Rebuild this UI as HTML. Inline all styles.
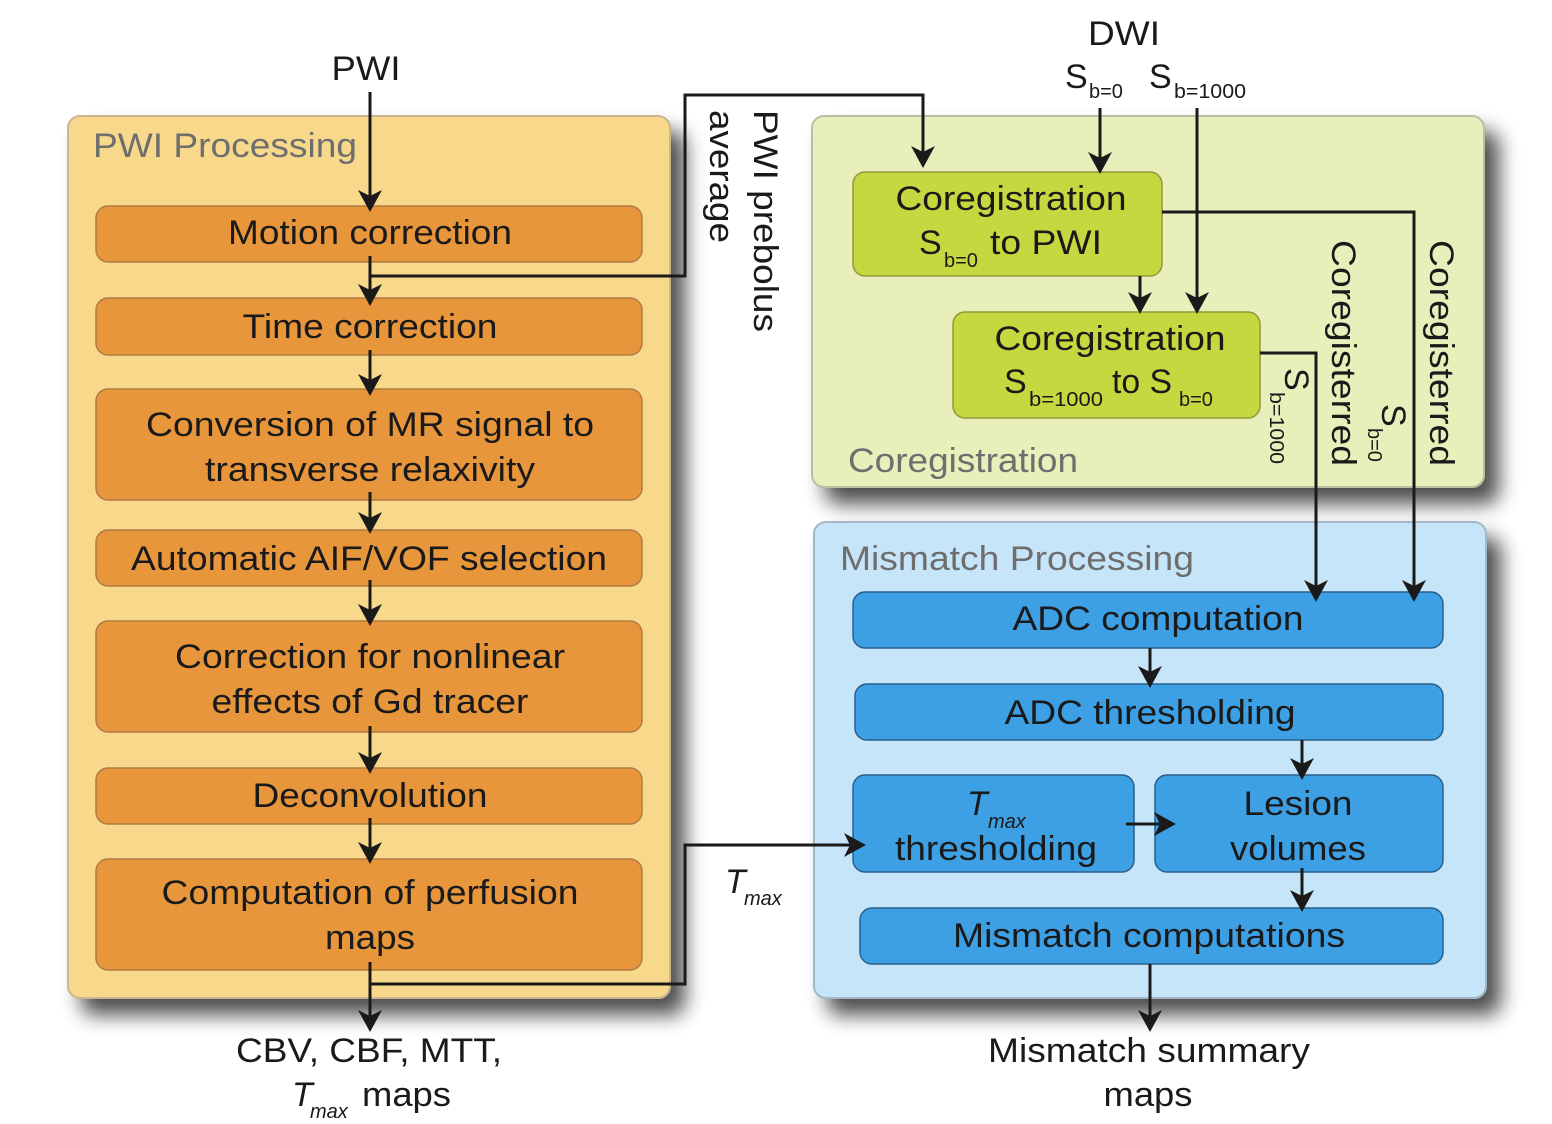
<!DOCTYPE html>
<html><head><meta charset="utf-8"><style>
html,body{margin:0;padding:0;background:#fff;}
svg{display:block;}
text{font-family:"Liberation Sans",Arial,sans-serif;fill:#1a1a1a;}
.g{fill:#6e6e6e;}
</style></head><body>
<svg width="1552" height="1124" viewBox="0 0 1552 1124" xmlns="http://www.w3.org/2000/svg">
<defs>
<filter id="sh" x="-10%" y="-10%" width="130%" height="130%">
<feGaussianBlur in="SourceAlpha" stdDeviation="10"/>
<feOffset dx="14" dy="16" result="b"/>
<feComponentTransfer><feFuncA type="linear" slope="0.7"/></feComponentTransfer>
<feMerge><feMergeNode/><feMergeNode in="SourceGraphic"/></feMerge>
</filter>
</defs>

<!-- panels -->
<rect x="68" y="116" width="602" height="882" rx="12" fill="#f8d98c" stroke="#c9b690" stroke-width="2" filter="url(#sh)"/>
<rect x="812" y="116" width="672" height="371" rx="12" fill="#e8efba" stroke="#b9bea0" stroke-width="2" filter="url(#sh)"/>
<rect x="814" y="522" width="672" height="476" rx="12" fill="#c6e5f8" stroke="#a3b8c6" stroke-width="2" filter="url(#sh)"/>

<!-- orange boxes -->
<g fill="#e8963c" stroke="#b07a44" stroke-width="1.5">
<rect x="96" y="206" width="546" height="56" rx="12"/>
<rect x="96" y="298" width="546" height="57" rx="12"/>
<rect x="96" y="389" width="546" height="111" rx="12"/>
<rect x="96" y="530" width="546" height="56" rx="12"/>
<rect x="96" y="621" width="546" height="111" rx="12"/>
<rect x="96" y="768" width="546" height="56" rx="12"/>
<rect x="96" y="859" width="546" height="111" rx="12"/>
</g>
<!-- green boxes -->
<g fill="#c5d83f" stroke="#8e9a3c" stroke-width="1.5">
<rect x="853" y="172" width="309" height="104" rx="12"/>
<rect x="953" y="312" width="307" height="106" rx="12"/>
</g>
<!-- blue boxes -->
<g fill="#3ea0e4" stroke="#2a5f8a" stroke-width="1.5">
<rect x="853" y="592" width="590" height="56" rx="12"/>
<rect x="855" y="684" width="588" height="56" rx="12"/>
<rect x="853" y="775" width="281" height="97" rx="12"/>
<rect x="1155" y="775" width="288" height="97" rx="12"/>
<rect x="860" y="908" width="583" height="56" rx="12"/>
</g>

<!-- connector lines -->
<g fill="none" stroke="#1a1a1a" stroke-width="3">
<path d="M370 92 V200"/>
<path d="M370 256 V292"/>
<path d="M370 350 V383"/>
<path d="M370 492 V524"/>
<path d="M370 580 V615"/>
<path d="M370 726 V762"/>
<path d="M370 818 V853"/>
<path d="M370 962 V1022"/>
<path d="M370 276 H685 V95 H923 V158"/>
<path d="M370 984 H685 V845 H852"/>
<path d="M1100 108 V160"/>
<path d="M1197 108 V302"/>
<path d="M1140 276 V302"/>
<path d="M1162 212 H1414 V590"/>
<path d="M1260 353 H1316 V590"/>
<path d="M1150 648 V680"/>
<path d="M1302 740 V770"/>
<path d="M1126 824 H1162"/>
<path d="M1302 868 V904"/>
<path d="M1150 964 V1022"/>
</g>
<!-- arrowheads -->
<g fill="#1a1a1a">
<path d="M358 190 L370 212 L382 190 L370 196Z"/>
<path d="M358 284 L370 306 L382 284 L370 290Z"/>
<path d="M358 374 L370 396 L382 374 L370 380Z"/>
<path d="M358 512 L370 534 L382 512 L370 518Z"/>
<path d="M358 604 L370 626 L382 604 L370 610Z"/>
<path d="M358 752 L370 774 L382 752 L370 758Z"/>
<path d="M358 842 L370 864 L382 842 L370 848Z"/>
<path d="M358 1010 L370 1032 L382 1010 L370 1016Z"/>
<path d="M911 146 L923 168 L935 146 L923 152Z"/>
<path d="M1088 152 L1100 174 L1112 152 L1100 158Z"/>
<path d="M1185 292 L1197 314 L1209 292 L1197 298Z"/>
<path d="M1128 292 L1140 314 L1152 292 L1140 298Z"/>
<path d="M1402 580 L1414 602 L1426 580 L1414 586Z"/>
<path d="M1304 580 L1316 602 L1328 580 L1316 586Z"/>
<path d="M1138 666 L1150 688 L1162 666 L1150 672Z"/>
<path d="M1290 758 L1302 780 L1314 758 L1302 764Z"/>
<path d="M1290 890 L1302 912 L1314 890 L1302 896Z"/>
<path d="M1138 1010 L1150 1032 L1162 1010 L1150 1016Z"/>
<path d="M844 833 L866 845 L844 857 L850 845Z"/>
<path d="M1154 812 L1176 824 L1154 836 L1160 824Z"/>
</g>

<!-- texts -->
<g font-size="34" text-anchor="middle">
<text x="366" y="80" textLength="69" lengthAdjust="spacingAndGlyphs">PWI</text>
<text x="370" y="244" textLength="284" lengthAdjust="spacingAndGlyphs">Motion correction</text>
<text x="370" y="338" textLength="255" lengthAdjust="spacingAndGlyphs">Time correction</text>
<text x="370" y="436" textLength="448" lengthAdjust="spacingAndGlyphs">Conversion of MR signal to</text>
<text x="370" y="481" textLength="330" lengthAdjust="spacingAndGlyphs">transverse relaxivity</text>
<text x="369" y="570" textLength="476" lengthAdjust="spacingAndGlyphs">Automatic AIF/VOF selection</text>
<text x="370" y="668" textLength="390" lengthAdjust="spacingAndGlyphs">Correction for nonlinear</text>
<text x="370" y="713" textLength="317" lengthAdjust="spacingAndGlyphs">effects of Gd tracer</text>
<text x="370" y="807" textLength="235" lengthAdjust="spacingAndGlyphs">Deconvolution</text>
<text x="370" y="904" textLength="417" lengthAdjust="spacingAndGlyphs">Computation of perfusion</text>
<text x="370" y="949" textLength="90" lengthAdjust="spacingAndGlyphs">maps</text>
<text x="369" y="1062" textLength="266" lengthAdjust="spacingAndGlyphs">CBV, CBF, MTT,</text>
<text x="1149" y="1062" textLength="322" lengthAdjust="spacingAndGlyphs">Mismatch summary</text>
<text x="1148" y="1106" textLength="89" lengthAdjust="spacingAndGlyphs">maps</text>
<text x="1124" y="45" textLength="72" lengthAdjust="spacingAndGlyphs">DWI</text>
<text x="1011" y="210" textLength="231" lengthAdjust="spacingAndGlyphs">Coregistration</text>
<text x="1110" y="350" textLength="231" lengthAdjust="spacingAndGlyphs">Coregistration</text>
<text x="1158" y="630" textLength="291" lengthAdjust="spacingAndGlyphs">ADC computation</text>
<text x="1150" y="724" textLength="291" lengthAdjust="spacingAndGlyphs">ADC thresholding</text>
<text x="996" y="860" textLength="202" lengthAdjust="spacingAndGlyphs">thresholding</text>
<text x="1298" y="815" textLength="109" lengthAdjust="spacingAndGlyphs">Lesion</text>
<text x="1298" y="860" textLength="136" lengthAdjust="spacingAndGlyphs">volumes</text>
<text x="1149" y="947" textLength="392" lengthAdjust="spacingAndGlyphs">Mismatch computations</text>
</g>
<text x="93" y="157" font-size="34" class="g" textLength="264" lengthAdjust="spacingAndGlyphs">PWI Processing</text>
<text x="848" y="472" font-size="34" class="g" textLength="230" lengthAdjust="spacingAndGlyphs">Coregistration</text>
<text x="840" y="570" font-size="34" class="g" textLength="354" lengthAdjust="spacingAndGlyphs">Mismatch Processing</text>

<text x="292" y="1106" font-size="34" font-style="italic">T</text>
<text x="310" y="1118" font-size="20" font-style="italic">max</text>
<text x="362" y="1106" font-size="34" textLength="89" lengthAdjust="spacingAndGlyphs">maps</text>
<text x="725" y="893" font-size="34" font-style="italic">T</text>
<text x="744" y="905" font-size="20" font-style="italic">max</text>
<text x="967" y="815" font-size="34" font-style="italic">T</text>
<text x="988" y="828" font-size="20" font-style="italic">max</text>

<text x="1065" y="88" font-size="34">S</text>
<text x="1089" y="98" font-size="20">b=0</text>
<text x="1149" y="88" font-size="34">S</text>
<text x="1174" y="98" font-size="20" textLength="72" lengthAdjust="spacingAndGlyphs">b=1000</text>

<text x="919" y="254" font-size="34">S</text>
<text x="944" y="267" font-size="20">b=0</text>
<text x="990" y="254" font-size="34" textLength="112" lengthAdjust="spacingAndGlyphs">to PWI</text>
<text x="1004" y="393" font-size="34">S</text>
<text x="1029" y="406" font-size="20" textLength="74" lengthAdjust="spacingAndGlyphs">b=1000</text>
<text x="1112" y="393" font-size="34" textLength="60" lengthAdjust="spacingAndGlyphs">to S</text>
<text x="1179" y="406" font-size="20">b=0</text>

<text transform="translate(754,110) rotate(90)" font-size="34" textLength="222" lengthAdjust="spacingAndGlyphs">PWI prebolus</text>
<text transform="translate(710,110) rotate(90)" font-size="34" textLength="133" lengthAdjust="spacingAndGlyphs">average</text>
<text transform="translate(1430,240) rotate(90)" font-size="34" textLength="226" lengthAdjust="spacingAndGlyphs">Coregisterred</text>
<text transform="translate(1332,240) rotate(90)" font-size="34" textLength="226" lengthAdjust="spacingAndGlyphs">Coregisterred</text>
<text transform="translate(1382,404) rotate(90)" font-size="34">S</text>
<text transform="translate(1368,428) rotate(90)" font-size="20">b=0</text>
<text transform="translate(1285,368) rotate(90)" font-size="34">S</text>
<text transform="translate(1270,392) rotate(90)" font-size="20" textLength="72" lengthAdjust="spacingAndGlyphs">b=1000</text>
</svg>
</body></html>
